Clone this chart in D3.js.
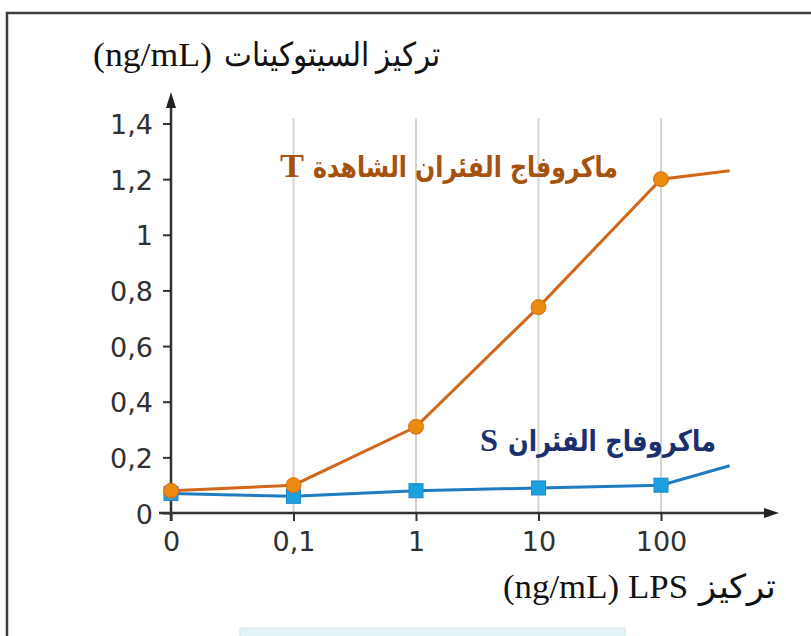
<!DOCTYPE html>
<html>
<head>
<meta charset="utf-8">
<script src="https://cdn.jsdelivr.net/npm/d3@7"></script>
<style>
  body { margin: 0; background: #fff; }
  svg { display: block; }
</style>
</head>
<body>
<div id="chart"></div>
<script>
"use strict";

// x categories (LPS ng/mL) and tick labels
const xTickLabels = ['0', '0,1', '1', '10', '100'];
// position of each measured point along the category axis (last point has no label)
const xSteps = [0, 1, 2, 3, 4, 4.56];
const yTicks = [0, 0.2, 0.4, 0.6, 0.8, 1, 1.2, 1.4];

// cytokine concentration (ng/mL)
const controlT = [0.08, 0.10, 0.31, 0.74, 1.20, 1.23];
const mutantS = [0.07, 0.06, 0.08, 0.09, 0.10, 0.17];

const width = 811, height = 636;
const serif = '"Liberation Serif", "DejaVu Serif", serif';

const svg = d3.select('#chart').append('svg')
    .attr('width', width).attr('height', height);

// frame
svg.append('path')
    .attr('d', 'M7,636 L7,13 L811,13')
    .attr('fill', 'none').attr('stroke', '#3d3d3d').attr('stroke-width', 2.5);

// faint strip at the bottom
svg.append('rect')
    .attr('x', 240).attr('y', 628).attr('width', 385).attr('height', 10)
    .attr('fill', '#e3f3f6').attr('stroke', '#cfe6ec').attr('stroke-width', 1);

const x = d3.scaleLinear().domain([0, 4]).range([171, 661]);
const y = d3.scaleLinear().domain([0, 1.4]).range([513, 123.5]);

const fmt = d => String(d).replace('.', ',');

// vertical grid lines
svg.append('g').selectAll('line')
    .data(xTickLabels.slice(1)).enter()
    .append('line')
    .attr('x1', (d, i) => x(i + 1)).attr('x2', (d, i) => x(i + 1))
    .attr('y1', 118).attr('y2', 513)
    .attr('stroke', '#d4d4d4').attr('stroke-width', 2);

// y axis
const yAxis = d3.axisLeft(y).tickValues(yTicks).tickFormat(fmt).tickSize(8).tickPadding(10);
const gy = svg.append('g').attr('transform', `translate(${x(0)},0)`).call(yAxis);
gy.select('.domain').remove();
gy.selectAll('.tick line').attr('stroke', '#333').attr('stroke-width', 2);
gy.selectAll('.tick text')
    .attr('fill', '#303030')
    .style('font-family', '"DejaVu Sans", sans-serif')
    .style('font-size', '27px')
    .attr('dy', '0.37em');

// x axis
const xAxis = d3.axisBottom(x).tickValues(d3.range(xTickLabels.length))
    .tickFormat(i => xTickLabels[i]).tickSize(8).tickPadding(11);
const gx = svg.append('g').attr('transform', `translate(0,${y(0)})`).call(xAxis);
gx.select('.domain').remove();
gx.selectAll('.tick line').attr('stroke', '#333').attr('stroke-width', 2);
gx.selectAll('.tick text')
    .attr('fill', '#303030')
    .style('font-family', '"DejaVu Sans", sans-serif')
    .style('font-size', '27px');

// axis lines with arrows
svg.append('line')
    .attr('x1', 159).attr('x2', 768).attr('y1', y(0)).attr('y2', y(0))
    .attr('stroke', '#333').attr('stroke-width', 2.5);
svg.append('path')
    .attr('d', `M779,${y(0)} L764,${y(0) - 5} L764,${y(0) + 5} Z`)
    .attr('fill', '#222');
svg.append('line')
    .attr('x1', x(0)).attr('x2', x(0)).attr('y1', 521).attr('y2', 104)
    .attr('stroke', '#333').attr('stroke-width', 2.5);
svg.append('path')
    .attr('d', `M${x(0)},92 L${x(0) - 5},108 L${x(0) + 5},108 Z`)
    .attr('fill', '#222');

const line = d3.line()
    .x((d, i) => x(xSteps[i]))
    .y(d => y(d));

// S series
svg.append('path').datum(mutantS)
    .attr('d', line)
    .attr('fill', 'none').attr('stroke', '#1f7cc2').attr('stroke-width', 3);
svg.append('g').selectAll('rect')
    .data(mutantS.slice(0, 5)).enter()
    .append('rect')
    .attr('x', (d, i) => x(xSteps[i]) - 7)
    .attr('y', d => y(d) - 7)
    .attr('width', 14).attr('height', 14)
    .attr('fill', '#1ba0e0').attr('stroke', '#1c86c8').attr('stroke-width', 1);

// T series
svg.append('path').datum(controlT)
    .attr('d', line)
    .attr('fill', 'none').attr('stroke', '#d2661a').attr('stroke-width', 3);
svg.append('g').selectAll('circle')
    .data(controlT.slice(0, 5)).enter()
    .append('circle')
    .attr('cx', (d, i) => x(xSteps[i]))
    .attr('cy', d => y(d))
    .attr('r', 7.5)
    .attr('fill', '#ec8a10').attr('stroke', '#d2701a').attr('stroke-width', 1);

// text pieces are laid out one by one so the mixed Arabic / Latin order stays put
const addText = function(txt, x0, y0, len, size, font, color, weight) {
    return svg.append('text')
        .attr('x', x0).attr('y', y0)
        .attr('textLength', len).attr('lengthAdjust', 'spacingAndGlyphs')
        .style('font-family', font).style('font-size', size + 'px')
        .style('font-weight', weight || 'normal')
        .attr('fill', color)
        .text(txt);
};
const ltr = t => t.attr('direction', 'ltr').style('unicode-bidi', 'bidi-override');

// y title
ltr(addText('(ng/mL)', 93, 66, 119, 33, serif, '#111'));
addText('تركيز السيتوكينات', 224, 66, 216, 33, serif, '#111');

// x title
ltr(addText('(ng/mL)', 503, 598, 116, 33, serif, '#111'));
addText('LPS', 628, 598, 60, 33, serif, '#111');
addText('تركيز', 699, 598, 77, 33, serif, '#111');

// series labels
addText('T', 280, 177, 24, 34, serif, '#a4520e', 'bold');
addText('ماكروفاج الفئران الشاهدة', 313, 177, 305, 29, '"DejaVu Sans", sans-serif', '#a4520e', 'bold');

addText('S', 480, 451, 18, 32, serif, '#1b2f6e', 'bold');
addText('ماكروفاج الفئران', 508, 451, 208, 29, '"DejaVu Sans", sans-serif', '#1b2f6e', 'bold');
</script>
</body>
</html>
